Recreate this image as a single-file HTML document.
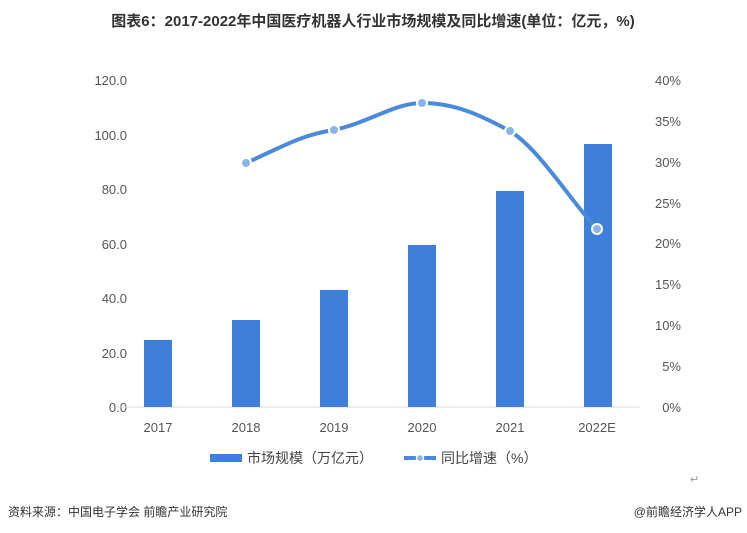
<!DOCTYPE html>
<html><head><meta charset="utf-8"><style>
body{margin:0;background:#fff;}
svg{display:block;font-family:"Liberation Sans","Noto Sans CJK SC",sans-serif;}
</style></head><body>
<svg width="747" height="533" viewBox="0 0 747 533">
<text x="373" y="26" text-anchor="middle" font-size="15" font-weight="bold" fill="#333">图表6：2017-2022年中国医疗机器人行业市场规模及同比增速(单位：亿元，%)</text>
<g font-size="13" fill="#555" text-anchor="end">
<text x="127" y="412">0.0</text><text x="127" y="358">20.0</text><text x="127" y="303">40.0</text>
<text x="127" y="249">60.0</text><text x="127" y="194">80.0</text><text x="127" y="140">100.0</text><text x="127" y="85">120.0</text>
</g>
<g font-size="13" fill="#555" text-anchor="end">
<text x="681" y="412">0%</text><text x="681" y="371">5%</text><text x="681" y="330">10%</text><text x="681" y="289">15%</text>
<text x="681" y="248">20%</text><text x="681" y="208">25%</text><text x="681" y="167">30%</text><text x="681" y="126">35%</text><text x="681" y="85">40%</text>
</g>
<line x1="115" y1="407" x2="640" y2="407" stroke="#ddd"/>
<g fill="#3f7fdc">
<rect x="144" y="340" width="28" height="67"/>
<rect x="232" y="320" width="28" height="87"/>
<rect x="320" y="290" width="28" height="117"/>
<rect x="408" y="245" width="28" height="162"/>
<rect x="496" y="191" width="28" height="216"/>
<rect x="584" y="144" width="28" height="263"/>
</g>
<g font-size="13" fill="#555" text-anchor="middle">
<text x="158" y="432">2017</text><text x="246" y="432">2018</text><text x="334" y="432">2019</text>
<text x="422" y="432">2020</text><text x="510" y="432">2021</text><text x="597" y="432">2022E</text>
</g>
<path d="M246 163 C280 148,300 135,334 130 C370 122,395 103,422 103 C455 103,480 115,510 131 C540 150,570 200,597 229" fill="none" stroke="#4a8ad8" stroke-width="4"/>
<g fill="#8ab4e8" stroke="#fff" stroke-width="2">
<circle cx="246" cy="163" r="5"/><circle cx="334" cy="130" r="5"/><circle cx="422" cy="103" r="5"/>
<circle cx="510" cy="131" r="5"/><circle cx="597" cy="229" r="5"/>
</g>
<rect x="210" y="454" width="32" height="8" fill="#3f7fdc"/>
<text x="247" y="463" font-size="14" fill="#444">市场规模（万亿元）</text>
<line x1="404" y1="458" x2="436" y2="458" stroke="#4a8ad8" stroke-width="4"/>
<circle cx="420" cy="458" r="3.5" fill="#8ab4e8" stroke="#fff" stroke-width="1.5"/>
<text x="441" y="463" font-size="14" fill="#444">同比增速（%）</text>
<text x="690" y="483" font-size="11" fill="#999">↵</text>
<text x="8" y="516" font-size="12" fill="#333">资料来源：中国电子学会 前瞻产业研究院</text>
<text x="742" y="516" font-size="12" fill="#333" text-anchor="end">@前瞻经济学人APP</text>
</svg>
</body></html>
